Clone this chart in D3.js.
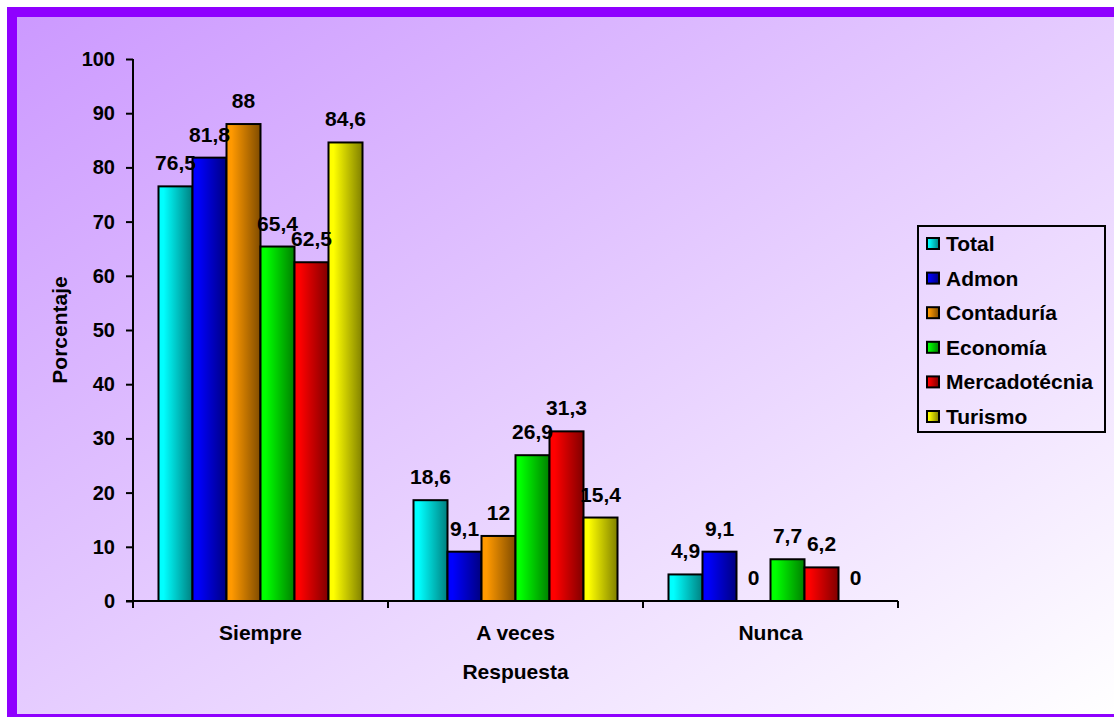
<!DOCTYPE html>
<html><head><meta charset="utf-8">
<script src="https://cdn.jsdelivr.net/npm/d3@7"></script>
<style>html,body{margin:0;background:#fff;overflow:hidden;}svg{display:block;}</style>
</head><body>
<script>
const categories = ["Siempre", "A veces", "Nunca"];
const seriesNames = ["Total", "Admon", "Contaduría", "Economía", "Mercadotécnia", "Turismo"];
const total = [76.5, 18.6, 4.9];
const admon = [81.8, 9.1, 9.1];
const contaduria = [88, 12, 0];
const economia = [65.4, 26.9, 7.7];
const mercadotecnia = [62.5, 31.3, 6.2];
const turismo = [84.6, 15.4, 0];
const yTicks = [0, 10, 20, 30, 40, 50, 60, 70, 80, 90, 100];
const seriesValues = [total, admon, contaduria, economia, mercadotecnia, turismo];
const lightColors = ["#00ffff", "#0000ff", "#ff9900", "#00ff00", "#ff0000", "#ffff00"];
const darkColors = ["#008080", "#000080", "#804c00", "#008000", "#800000", "#808000"];

const W = 1114, H = 717;
const svg = d3.select("body").append("svg").attr("width", W).attr("height", H);
const defs = svg.append("defs");
const bg = defs.append("linearGradient").attr("id", "bg").attr("x1", 0).attr("y1", 0).attr("x2", 1).attr("y2", 1);
bg.append("stop").attr("offset", "0%").attr("stop-color", "#cc99ff");
bg.append("stop").attr("offset", "100%").attr("stop-color", "#ffffff");
seriesNames.forEach((s, i) => {
  const g = defs.append("linearGradient").attr("id", "g" + i).attr("x1", 0).attr("y1", 0).attr("x2", 1).attr("y2", 0);
  g.append("stop").attr("offset", "0%").attr("stop-color", lightColors[i]);
  g.append("stop").attr("offset", "15%").attr("stop-color", lightColors[i]);
  g.append("stop").attr("offset", "100%").attr("stop-color", darkColors[i]);
});

// background & frame
const frame = "#8f00ff";
svg.append("rect").attr("x", 17).attr("y", 17).attr("width", W - 17).attr("height", 714 - 17).attr("fill", "url(#bg)");
svg.append("rect").attr("x", 7).attr("y", 7).attr("width", W - 7).attr("height", 10).attr("fill", frame);
svg.append("rect").attr("x", 7).attr("y", 7).attr("width", 10).attr("height", H - 7).attr("fill", frame);
svg.append("rect").attr("x", 7).attr("y", 714).attr("width", W - 7).attr("height", 3).attr("fill", frame);

const plot = {left: 133, right: 898, top: 59, bottom: 601};
const x0 = d3.scaleBand().domain(categories).range([plot.left, plot.right]).paddingInner(0.2).paddingOuter(0.1);
const x1 = d3.scaleBand().domain(seriesNames).range([0, x0.bandwidth()]);
const y = d3.scaleLinear().domain([0, 100]).range([plot.bottom, plot.top]);

const font = "Arial, 'Liberation Sans', sans-serif";
const fs = 21;

// bars
const groups = svg.append("g").selectAll("g").data(categories).join("g")
  .attr("transform", c => `translate(${x0(c)},0)`);
groups.each(function(c, ci) {
  const g = d3.select(this);
  seriesNames.forEach((s, si) => {
    const v = seriesValues[si][ci];
    if (v > 0) {
      g.append("rect").attr("x", x1(s)).attr("y", y(v)).attr("width", x1.bandwidth()).attr("height", y(0) - y(v))
        .attr("fill", `url(#g${si})`).attr("stroke", "#000").attr("stroke-width", 2);
    }
  });
});
groups.each(function(c, ci) {
  const g = d3.select(this);
  seriesNames.forEach((s, si) => {
    const v = seriesValues[si][ci];
    g.append("text").attr("x", x1(s) + x1.bandwidth() / 2).attr("y", y(v) - 16)
      .attr("text-anchor", "middle").attr("font-family", font).attr("font-weight", "bold").attr("font-size", fs)
      .attr("fill", "#000").text(String(v).replace(".", ","));
  });
});

// axes
const yAxis = svg.append("g").attr("transform", `translate(${plot.left},0)`)
  .call(d3.axisLeft(y).tickValues(yTicks).tickSize(7).tickPadding(11));
yAxis.select(".domain").attr("stroke-width", 2).attr("d", `M0,${plot.top}V${plot.bottom}`);
yAxis.selectAll(".tick line").attr("stroke-width", 2);
yAxis.selectAll("text").attr("font-family", font).attr("font-weight", "bold").attr("font-size", 20).attr("fill", "#000");

const xb = svg.append("g");
xb.append("line").attr("x1", plot.left - 7).attr("x2", plot.right).attr("y1", plot.bottom).attr("y2", plot.bottom)
  .attr("stroke", "#000").attr("stroke-width", 2);
const bounds = [plot.left, ...categories.map(c => x0(c) + x0.bandwidth() + x0.step() * x0.paddingInner() / 2)];
xb.selectAll("line.t").data(bounds).join("line").attr("class", "t")
  .attr("x1", d => d).attr("x2", d => d).attr("y1", plot.bottom).attr("y2", plot.bottom + 7)
  .attr("stroke", "#000").attr("stroke-width", 2);
xb.selectAll("text").data(categories).join("text")
  .attr("x", c => x0(c) + x0.bandwidth() / 2).attr("y", 640).attr("text-anchor", "middle")
  .attr("font-family", font).attr("font-weight", "bold").attr("font-size", fs).text(c => c);

svg.append("text").attr("x", (plot.left + plot.right) / 2).attr("y", 679).attr("text-anchor", "middle")
  .attr("font-family", font).attr("font-weight", "bold").attr("font-size", fs).text("Respuesta");
svg.append("text").attr("transform", `translate(67,${(plot.top + plot.bottom) / 2}) rotate(-90)`)
  .attr("text-anchor", "middle").attr("font-family", font).attr("font-weight", "bold").attr("font-size", fs).text("Porcentaje");

// legend
const lg = svg.append("g");
lg.append("rect").attr("x", 918).attr("y", 226).attr("width", 187).attr("height", 206)
  .attr("fill", "none").attr("stroke", "#000").attr("stroke-width", 2);
seriesNames.forEach((s, i) => {
  const cy = 244 + i * 34.6;
  lg.append("rect").attr("x", 927).attr("y", cy - 6).attr("width", 12).attr("height", 11)
    .attr("fill", `url(#g${i})`).attr("stroke", "#000").attr("stroke-width", 2);
  lg.append("text").attr("x", 946).attr("y", cy + 7).attr("font-family", font).attr("font-weight", "bold")
    .attr("font-size", fs).text(s);
});
</script>
</body></html>
